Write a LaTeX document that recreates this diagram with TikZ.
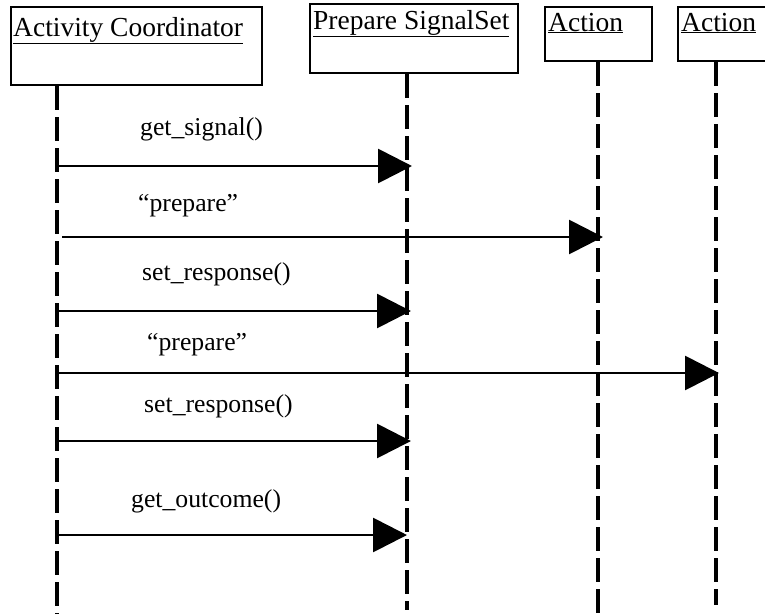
\documentclass[tikz,border=0pt]{standalone}
\usepackage{fontspec}
\setmainfont{Liberation Serif}
\usetikzlibrary{arrows.meta, positioning}

\begin{document}
\begin{tikzpicture}[
    x=1pt, y=-1pt,
    objbox/.style={draw, line width=2pt, inner sep=0pt},
    objname/.style={anchor=base west, inner sep=0pt, font=\fontsize{27.5}{32}\selectfont},
    lifeline/.style={line width=3.2pt, dash pattern=on 24pt off 7pt},
    msg/.style={line width=2.8pt, -{Triangle[length=34pt, width=34pt]}},
    msglabel/.style={anchor=base west, inner sep=0pt, font=\fontsize{25.7}{30}\selectfont}
]
    \useasboundingbox (0,0) rectangle (765,614);

    % objects
    \node[objbox, minimum width=251pt, minimum height=78pt] (ac) at (136.5,46) {};
    \node[objbox, minimum width=208pt, minimum height=69pt] (ps) at (414,38.5) {};
    \node[objbox, minimum width=107pt, minimum height=54pt] (act1) at (598.5,34) {};
    \node[objbox, minimum width=100pt, minimum height=54pt] (act2) at (728,34) {};

    \node[objname] (acName) at (13,36) {\underline{Activity Coordinator}};
    \node[objname] (psName) at (313,29) {\underline{Prepare SignalSet}};
    \node[objname] (act1Name) at (548,31) {\underline{Action}};
    \node[objname] (act2Name) at (681,31) {\underline{Action}};

    % lifelines
    \coordinate (acEnd) at (57,614);
    \coordinate (psEnd) at (407,610);
    \coordinate (act1End) at (598,614);
    \coordinate (act2End) at (716,605);

    \draw[lifeline] (ac.south -| acEnd) -- (acEnd);
    \draw[lifeline] (ps.south -| psEnd) -- (psEnd);
    \draw[lifeline] (act1.south -| act1End) -- (act1End);
    \draw[lifeline] (act2.south -| act2End) -- (act2End);

    % message rows
    \coordinate (r1) at (0,166);
    \coordinate (r2) at (0,237);
    \coordinate (r3) at (0,311);
    \coordinate (r4) at (0,373);
    \coordinate (r5) at (0,441);
    \coordinate (r6) at (0,535);

    \draw[msg] (acEnd |- r1) -- ([xshift=5pt]psEnd |- r1);
    \draw[msg] ([xshift=5pt]acEnd |- r2) -- ([xshift=5pt]act1End |- r2);
    \draw[msg] (acEnd |- r3) -- ([xshift=4pt]psEnd |- r3);
    \draw[msg] (acEnd |- r4) -- ([xshift=3pt]act2End |- r4);
    \draw[msg] (acEnd |- r5) -- ([xshift=4pt]psEnd |- r5);
    \draw[msg] (acEnd |- r6) -- (psEnd |- r6);

    \node[msglabel] (m1) at (140,135) {get\_signal()};
    \node[msglabel] (m2) at (138,211) {“prepare”};
    \node[msglabel] (m3) at (142,280) {set\_response()};
    \node[msglabel] (m4) at (147,350) {“prepare”};
    \node[msglabel] (m5) at (144,412) {set\_response()};
    \node[msglabel] (m6) at (131,507) {get\_outcome()};
\end{tikzpicture}
\end{document}
